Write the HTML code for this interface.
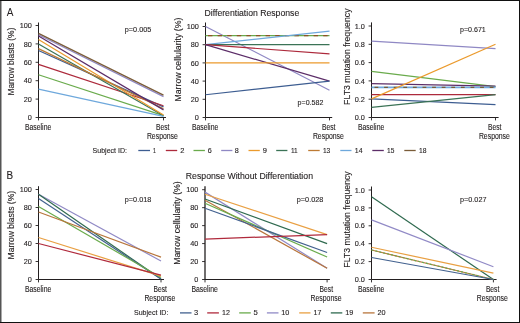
<!DOCTYPE html>
<html><head><meta charset="utf-8"><style>
html,body{margin:0;padding:0;background:#fff;width:520px;height:323px;overflow:hidden;position:relative}
</style></head><body>
<svg xmlns="http://www.w3.org/2000/svg" width="520" height="323" viewBox="0 0 520 323" style="position:absolute;left:0;top:0;will-change:transform">
<rect x="0" y="0" width="520" height="323" fill="#fff"/>
<g font-family='"Liberation Sans", sans-serif' fill="#231f20" stroke="#231f20" stroke-width="0.12">
<text x="6.8" y="15.9" font-size="11" text-anchor="start" textLength="6.7" lengthAdjust="spacingAndGlyphs" stroke-width="0">A</text>
<text x="6.4" y="179.4" font-size="11" text-anchor="start" textLength="6.6" lengthAdjust="spacingAndGlyphs" stroke-width="0.15">B</text>
<text x="204.6" y="15.9" font-size="9.4" text-anchor="start" textLength="94.6" lengthAdjust="spacingAndGlyphs">Differentiation Response</text>
<text x="185.8" y="178.8" font-size="9.4" text-anchor="start" textLength="127.2" lengthAdjust="spacingAndGlyphs">Response Without Differentiation</text>
<path d="M38.5 22.5 V117.5 H166.0" fill="none" stroke="#231f20" stroke-width="1"/>
<path d="M35.6 117.50H38.5M35.6 99.10H38.5M35.6 80.70H38.5M35.6 62.30H38.5M35.6 43.90H38.5M35.6 25.50H38.5M38.5 117.5V120.4M163.5 117.5V120.4" fill="none" stroke="#231f20" stroke-width="0.9"/>
<text x="31.9" y="120.10" font-size="7.3" text-anchor="end">0</text>
<text x="31.9" y="101.70" font-size="7.3" text-anchor="end">20</text>
<text x="31.9" y="83.30" font-size="7.3" text-anchor="end">40</text>
<text x="31.9" y="64.90" font-size="7.3" text-anchor="end">60</text>
<text x="31.9" y="46.50" font-size="7.3" text-anchor="end">80</text>
<text x="31.9" y="28.10" font-size="7.3" text-anchor="end">100</text>
<line x1="38.5" y1="50.52" x2="163.5" y2="106.92" stroke="#3d5d91" stroke-width="1.2" />
<line x1="38.5" y1="64.32" x2="163.5" y2="105.72" stroke="#ad2a3c" stroke-width="1.2" />
<line x1="38.5" y1="74.72" x2="163.5" y2="115.66" stroke="#6aab4c" stroke-width="1.2" />
<line x1="38.5" y1="34.70" x2="163.5" y2="96.62" stroke="#8f88c4" stroke-width="1.2" />
<line x1="38.5" y1="44.08" x2="163.5" y2="115.84" stroke="#3b7356" stroke-width="1.2" />
<line x1="38.5" y1="39.58" x2="163.5" y2="114.92" stroke="#eb9a2c" stroke-width="1.2" />
<line x1="38.5" y1="48.59" x2="163.5" y2="108.76" stroke="#bd7a33" stroke-width="1.2" />
<line x1="38.5" y1="89.07" x2="163.5" y2="116.40" stroke="#6ea8dc" stroke-width="1.2" />
<line x1="38.5" y1="36.08" x2="163.5" y2="109.86" stroke="#5c2d68" stroke-width="1.2" />
<line x1="38.5" y1="33.41" x2="163.5" y2="95.14" stroke="#7a5c38" stroke-width="1.2" />
<text x="38.1" y="129.7" font-size="8.2" text-anchor="middle" textLength="26.4" lengthAdjust="spacingAndGlyphs">Baseline</text>
<text x="162.7" y="129.7" font-size="8.2" text-anchor="middle" textLength="13.4" lengthAdjust="spacingAndGlyphs">Best</text>
<text x="162.4" y="138.6" font-size="8.2" text-anchor="middle" textLength="31.0" lengthAdjust="spacingAndGlyphs">Response</text>
<text transform="translate(14.0 61.6) rotate(-90)" x="0" y="0" font-size="9.2" text-anchor="middle" textLength="68" lengthAdjust="spacingAndGlyphs">Marrow blasts (%)</text>
<path d="M205.5 22.5 V117.5 H332.2" fill="none" stroke="#231f20" stroke-width="1"/>
<path d="M202.6 117.50H205.5M202.6 99.30H205.5M202.6 81.10H205.5M202.6 62.90H205.5M202.6 44.70H205.5M202.6 26.50H205.5M205.5 117.5V120.4M329.5 117.5V120.4" fill="none" stroke="#231f20" stroke-width="0.9"/>
<text x="198.9" y="120.10" font-size="7.3" text-anchor="end">0</text>
<text x="198.9" y="101.90" font-size="7.3" text-anchor="end">20</text>
<text x="198.9" y="83.70" font-size="7.3" text-anchor="end">40</text>
<text x="198.9" y="65.50" font-size="7.3" text-anchor="end">60</text>
<text x="198.9" y="47.30" font-size="7.3" text-anchor="end">80</text>
<text x="198.9" y="29.10" font-size="7.3" text-anchor="end">100</text>
<line x1="205.5" y1="26.50" x2="329.5" y2="90.20" stroke="#8f88c4" stroke-width="1.2" />
<line x1="205.5" y1="35.60" x2="329.5" y2="35.60" stroke="#6aab4c" stroke-width="1.2" />
<line x1="205.5" y1="35.60" x2="329.5" y2="35.60" stroke="#8f4f27" stroke-width="1.2" stroke-dasharray="4.4 5.2" stroke-dashoffset="-2.5"/>
<line x1="205.5" y1="44.70" x2="329.5" y2="31.05" stroke="#6ea8dc" stroke-width="1.2" />
<line x1="205.5" y1="44.70" x2="329.5" y2="44.70" stroke="#3b7356" stroke-width="1.2" />
<line x1="205.5" y1="44.70" x2="329.5" y2="53.80" stroke="#ad2a3c" stroke-width="1.2" />
<line x1="205.5" y1="44.70" x2="329.5" y2="81.10" stroke="#5c2d68" stroke-width="1.2" />
<line x1="205.5" y1="62.90" x2="329.5" y2="62.90" stroke="#eb9a2c" stroke-width="1.2" />
<line x1="205.5" y1="94.75" x2="329.5" y2="81.10" stroke="#3d5d91" stroke-width="1.2" />
<text x="205.1" y="129.7" font-size="8.2" text-anchor="middle" textLength="26.4" lengthAdjust="spacingAndGlyphs">Baseline</text>
<text x="328.7" y="129.7" font-size="8.2" text-anchor="middle" textLength="13.4" lengthAdjust="spacingAndGlyphs">Best</text>
<text x="328.4" y="138.6" font-size="8.2" text-anchor="middle" textLength="31.0" lengthAdjust="spacingAndGlyphs">Response</text>
<text transform="translate(180.8 59.6) rotate(-90)" x="0" y="0" font-size="9.2" text-anchor="middle" textLength="83.8" lengthAdjust="spacingAndGlyphs">Marrow cellularity (%)</text>
<path d="M371.5 22.4 V117.5 H498.6" fill="none" stroke="#231f20" stroke-width="1"/>
<path d="M368.6 117.50H371.5M368.6 99.20H371.5M368.6 80.90H371.5M368.6 62.60H371.5M368.6 44.30H371.5M368.6 26.00H371.5M371.5 117.5V120.4M495.5 117.5V120.4" fill="none" stroke="#231f20" stroke-width="0.9"/>
<text x="364.9" y="120.10" font-size="7.3" text-anchor="end">0.0</text>
<text x="364.9" y="101.80" font-size="7.3" text-anchor="end">0.2</text>
<text x="364.9" y="83.50" font-size="7.3" text-anchor="end">0.4</text>
<text x="364.9" y="65.20" font-size="7.3" text-anchor="end">0.6</text>
<text x="364.9" y="46.90" font-size="7.3" text-anchor="end">0.8</text>
<text x="364.9" y="28.60" font-size="7.3" text-anchor="end">1.0</text>
<line x1="371.5" y1="41.10" x2="495.5" y2="48.60" stroke="#8f88c4" stroke-width="1.2" />
<line x1="371.5" y1="71.29" x2="495.5" y2="86.66" stroke="#6aab4c" stroke-width="1.2" />
<line x1="371.5" y1="83.55" x2="495.5" y2="86.12" stroke="#5c2d68" stroke-width="1.2" />
<line x1="371.5" y1="87.31" x2="495.5" y2="87.31" stroke="#6ea8dc" stroke-width="1.8"/>
<line x1="371.5" y1="87.31" x2="495.5" y2="87.31" stroke="#7a5c38" stroke-width="1.2" stroke-dasharray="3.8 5.8" stroke-dashoffset="-3"/>
<line x1="371.5" y1="94.62" x2="495.5" y2="94.62" stroke="#ad2a3c" stroke-width="1.2" />
<line x1="371.5" y1="98.83" x2="495.5" y2="104.60" stroke="#3d5d91" stroke-width="1.2" />
<line x1="371.5" y1="107.44" x2="495.5" y2="94.62" stroke="#3b7356" stroke-width="1.2" />
<line x1="371.5" y1="98.83" x2="495.5" y2="44.30" stroke="#eb9a2c" stroke-width="1.2" />
<text x="371.1" y="129.7" font-size="8.2" text-anchor="middle" textLength="26.4" lengthAdjust="spacingAndGlyphs">Baseline</text>
<text x="494.7" y="129.7" font-size="8.2" text-anchor="middle" textLength="13.4" lengthAdjust="spacingAndGlyphs">Best</text>
<text x="494.4" y="138.6" font-size="8.2" text-anchor="middle" textLength="31.0" lengthAdjust="spacingAndGlyphs">Response</text>
<text transform="translate(349.5 56.7) rotate(-90)" x="0" y="0" font-size="9.2" text-anchor="middle" textLength="96.4" lengthAdjust="spacingAndGlyphs">FLT3 mutation frequency</text>
<path d="M38.5 186.2 V279.5 H164.0" fill="none" stroke="#231f20" stroke-width="1"/>
<path d="M35.6 279.50H38.5M35.6 261.50H38.5M35.6 243.50H38.5M35.6 225.50H38.5M35.6 207.50H38.5M35.6 189.50H38.5M38.5 279.5V282.4M161.0 279.5V282.4" fill="none" stroke="#231f20" stroke-width="0.9"/>
<text x="31.9" y="282.10" font-size="7.3" text-anchor="end">0</text>
<text x="31.9" y="264.10" font-size="7.3" text-anchor="end">20</text>
<text x="31.9" y="246.10" font-size="7.3" text-anchor="end">40</text>
<text x="31.9" y="228.10" font-size="7.3" text-anchor="end">60</text>
<text x="31.9" y="210.10" font-size="7.3" text-anchor="end">80</text>
<text x="31.9" y="192.10" font-size="7.3" text-anchor="end">100</text>
<line x1="38.5" y1="194.27" x2="161.0" y2="261.05" stroke="#918ac6" stroke-width="1.2" />
<line x1="38.5" y1="194.27" x2="161.0" y2="279.05" stroke="#2f6a4f" stroke-width="1.2" />
<line x1="38.5" y1="198.59" x2="161.0" y2="279.05" stroke="#42618f" stroke-width="1.2" />
<line x1="38.5" y1="206.42" x2="161.0" y2="277.52" stroke="#6aab4c" stroke-width="1.2" />
<line x1="38.5" y1="212.00" x2="161.0" y2="257.18" stroke="#b8763c" stroke-width="1.2" />
<line x1="38.5" y1="237.47" x2="161.0" y2="276.17" stroke="#e9a043" stroke-width="1.2" />
<line x1="38.5" y1="243.50" x2="161.0" y2="275.18" stroke="#b02a3c" stroke-width="1.2" />
<text x="38.1" y="291.9" font-size="8.2" text-anchor="middle" textLength="26.4" lengthAdjust="spacingAndGlyphs">Baseline</text>
<text x="160.2" y="291.9" font-size="8.2" text-anchor="middle" textLength="13.4" lengthAdjust="spacingAndGlyphs">Best</text>
<text x="159.9" y="300.79999999999995" font-size="8.2" text-anchor="middle" textLength="31.0" lengthAdjust="spacingAndGlyphs">Response</text>
<text transform="translate(14.0 225.2) rotate(-90)" x="0" y="0" font-size="9.2" text-anchor="middle" textLength="68.4" lengthAdjust="spacingAndGlyphs">Marrow blasts (%)</text>
<path d="M205.0 186.2 V279.5" fill="none" stroke="#231f20" stroke-width="1.3"/>
<path d="M205.0 279.5 H329.9" fill="none" stroke="#231f20" stroke-width="1"/>
<path d="M202.1 279.50H205.0M202.1 261.54H205.0M202.1 243.58H205.0M202.1 225.62H205.0M202.1 207.66H205.0M202.1 189.70H205.0M205.0 279.5V282.4M327.1 279.5V282.4" fill="none" stroke="#231f20" stroke-width="0.9"/>
<text x="198.4" y="282.10" font-size="7.3" text-anchor="end">0</text>
<text x="198.4" y="264.14" font-size="7.3" text-anchor="end">20</text>
<text x="198.4" y="246.18" font-size="7.3" text-anchor="end">40</text>
<text x="198.4" y="228.22" font-size="7.3" text-anchor="end">60</text>
<text x="198.4" y="210.26" font-size="7.3" text-anchor="end">80</text>
<text x="198.4" y="192.30" font-size="7.3" text-anchor="end">100</text>
<line x1="205.0" y1="192.12" x2="327.1" y2="268.27" stroke="#918ac6" stroke-width="1.2" />
<line x1="205.0" y1="194.28" x2="327.1" y2="234.60" stroke="#e9a043" stroke-width="1.2" />
<line x1="205.0" y1="199.04" x2="327.1" y2="243.58" stroke="#2f6a4f" stroke-width="1.2" />
<line x1="205.0" y1="200.21" x2="327.1" y2="268.27" stroke="#b8763c" stroke-width="1.2" />
<line x1="205.0" y1="203.26" x2="327.1" y2="257.05" stroke="#6aab4c" stroke-width="1.2" />
<line x1="205.0" y1="208.20" x2="327.1" y2="252.56" stroke="#42618f" stroke-width="1.2" />
<line x1="205.0" y1="239.09" x2="327.1" y2="234.60" stroke="#b02a3c" stroke-width="1.2" />
<text x="204.6" y="291.9" font-size="8.2" text-anchor="middle" textLength="26.4" lengthAdjust="spacingAndGlyphs">Baseline</text>
<text x="326.3" y="291.9" font-size="8.2" text-anchor="middle" textLength="13.4" lengthAdjust="spacingAndGlyphs">Best</text>
<text x="326.0" y="300.79999999999995" font-size="8.2" text-anchor="middle" textLength="31.0" lengthAdjust="spacingAndGlyphs">Response</text>
<text transform="translate(180.3 223.0) rotate(-90)" x="0" y="0" font-size="9.2" text-anchor="middle" textLength="83.4" lengthAdjust="spacingAndGlyphs">Marrow cellularity (%)</text>
<path d="M371.5 186.5 V279.5 H496.6" fill="none" stroke="#231f20" stroke-width="1"/>
<path d="M368.6 279.50H371.5M368.6 261.60H371.5M368.6 243.70H371.5M368.6 225.80H371.5M368.6 207.90H371.5M368.6 190.00H371.5M371.5 279.5V282.4M493.4 279.5V282.4" fill="none" stroke="#231f20" stroke-width="0.9"/>
<text x="364.9" y="282.10" font-size="7.3" text-anchor="end">0.0</text>
<text x="364.9" y="264.20" font-size="7.3" text-anchor="end">0.2</text>
<text x="364.9" y="246.30" font-size="7.3" text-anchor="end">0.4</text>
<text x="364.9" y="228.40" font-size="7.3" text-anchor="end">0.6</text>
<text x="364.9" y="210.50" font-size="7.3" text-anchor="end">0.8</text>
<text x="364.9" y="192.60" font-size="7.3" text-anchor="end">1.0</text>
<line x1="371.5" y1="196.80" x2="493.4" y2="279.50" stroke="#2f6a4f" stroke-width="1.2" />
<line x1="371.5" y1="219.89" x2="493.4" y2="266.70" stroke="#918ac6" stroke-width="1.2" />
<line x1="371.5" y1="247.28" x2="493.4" y2="273.06" stroke="#e9a043" stroke-width="1.2" />
<line x1="371.5" y1="249.97" x2="493.4" y2="279.50" stroke="#b8763c" stroke-width="1.2" />
<line x1="371.5" y1="249.97" x2="493.4" y2="279.50" stroke="#6aab4c" stroke-width="1.2" stroke-dasharray="2 2"/>
<line x1="371.5" y1="257.48" x2="493.4" y2="279.50" stroke="#42618f" stroke-width="1.2" />
<text x="371.1" y="291.9" font-size="8.2" text-anchor="middle" textLength="26.4" lengthAdjust="spacingAndGlyphs">Baseline</text>
<text x="492.59999999999997" y="291.9" font-size="8.2" text-anchor="middle" textLength="13.4" lengthAdjust="spacingAndGlyphs">Best</text>
<text x="492.29999999999995" y="300.79999999999995" font-size="8.2" text-anchor="middle" textLength="31.0" lengthAdjust="spacingAndGlyphs">Response</text>
<text transform="translate(349.8 219.5) rotate(-90)" x="0" y="0" font-size="9.2" text-anchor="middle" textLength="96.4" lengthAdjust="spacingAndGlyphs">FLT3 mutation frequency</text>
<text x="124.8" y="32.0" font-size="7.9" text-anchor="start" textLength="26.5" lengthAdjust="spacingAndGlyphs">p=0.005</text>
<text x="297.6" y="105.1" font-size="7.9" text-anchor="start" textLength="25.8" lengthAdjust="spacingAndGlyphs">p=0.582</text>
<text x="460.0" y="32.3" font-size="7.9" text-anchor="start" textLength="25.8" lengthAdjust="spacingAndGlyphs">p=0.671</text>
<text x="124.8" y="202.0" font-size="7.9" text-anchor="start" textLength="26.5" lengthAdjust="spacingAndGlyphs">p=0.018</text>
<text x="296.8" y="202.0" font-size="7.9" text-anchor="start" textLength="26.5" lengthAdjust="spacingAndGlyphs">p=0.028</text>
<text x="460.0" y="202.3" font-size="7.9" text-anchor="start" textLength="26.5" lengthAdjust="spacingAndGlyphs">p=0.027</text>
<text x="92.6" y="153.4" font-size="7.7" text-anchor="start" textLength="34.4" lengthAdjust="spacingAndGlyphs">Subject ID:</text>
<line x1="138.3" y1="150.5" x2="150.0" y2="150.5" stroke="#3d5d91" stroke-width="1.3"/>
<text x="153.0" y="153.4" font-size="7.4" text-anchor="start" textLength="2.9" lengthAdjust="spacingAndGlyphs">1</text>
<line x1="165.8" y1="150.5" x2="177.2" y2="150.5" stroke="#ad2a3c" stroke-width="1.3"/>
<text x="180.3" y="153.4" font-size="7.4" text-anchor="start" textLength="4.2" lengthAdjust="spacingAndGlyphs">2</text>
<line x1="193.5" y1="150.5" x2="204.9" y2="150.5" stroke="#6aab4c" stroke-width="1.3"/>
<text x="207.8" y="153.4" font-size="7.4" text-anchor="start" textLength="4.0" lengthAdjust="spacingAndGlyphs">6</text>
<line x1="221.2" y1="150.5" x2="232.4" y2="150.5" stroke="#8f88c4" stroke-width="1.3"/>
<text x="234.8" y="153.4" font-size="7.4" text-anchor="start" textLength="4.0" lengthAdjust="spacingAndGlyphs">8</text>
<line x1="248.5" y1="150.5" x2="259.8" y2="150.5" stroke="#eb9a2c" stroke-width="1.3"/>
<text x="262.8" y="153.4" font-size="7.4" text-anchor="start" textLength="4.2" lengthAdjust="spacingAndGlyphs">9</text>
<line x1="276.2" y1="150.5" x2="287.4" y2="150.5" stroke="#3b7356" stroke-width="1.3"/>
<text x="290.9" y="153.4" font-size="7.4" text-anchor="start" textLength="6.8" lengthAdjust="spacingAndGlyphs">11</text>
<line x1="308.2" y1="150.5" x2="319.7" y2="150.5" stroke="#bd7a33" stroke-width="1.3"/>
<text x="322.9" y="153.4" font-size="7.4" text-anchor="start" textLength="7.4" lengthAdjust="spacingAndGlyphs">13</text>
<line x1="340.3" y1="150.5" x2="351.5" y2="150.5" stroke="#6ea8dc" stroke-width="1.3"/>
<text x="354.8" y="153.4" font-size="7.4" text-anchor="start" textLength="7.7" lengthAdjust="spacingAndGlyphs">14</text>
<line x1="372.3" y1="150.5" x2="383.8" y2="150.5" stroke="#5c2d68" stroke-width="1.3"/>
<text x="387.1" y="153.4" font-size="7.4" text-anchor="start" textLength="7.3" lengthAdjust="spacingAndGlyphs">15</text>
<line x1="404.3" y1="150.5" x2="415.7" y2="150.5" stroke="#7a5c38" stroke-width="1.3"/>
<text x="418.9" y="153.4" font-size="7.4" text-anchor="start" textLength="7.5" lengthAdjust="spacingAndGlyphs">18</text>
<text x="134.0" y="315.4" font-size="7.7" text-anchor="start" textLength="34.4" lengthAdjust="spacingAndGlyphs">Subject ID:</text>
<line x1="180.0" y1="312.9" x2="191.5" y2="312.9" stroke="#42618f" stroke-width="1.3"/>
<text x="194.0" y="315.4" font-size="7.4" text-anchor="start" textLength="4.2" lengthAdjust="spacingAndGlyphs">3</text>
<line x1="207.2" y1="312.9" x2="218.9" y2="312.9" stroke="#b02a3c" stroke-width="1.3"/>
<text x="222.0" y="315.4" font-size="7.4" text-anchor="start" textLength="7.9" lengthAdjust="spacingAndGlyphs">12</text>
<line x1="239.2" y1="312.9" x2="250.8" y2="312.9" stroke="#6aab4c" stroke-width="1.3"/>
<text x="253.6" y="315.4" font-size="7.4" text-anchor="start" textLength="4.3" lengthAdjust="spacingAndGlyphs">5</text>
<line x1="266.9" y1="312.9" x2="278.5" y2="312.9" stroke="#918ac6" stroke-width="1.3"/>
<text x="281.3" y="315.4" font-size="7.4" text-anchor="start" textLength="8.1" lengthAdjust="spacingAndGlyphs">10</text>
<line x1="299.2" y1="312.9" x2="310.5" y2="312.9" stroke="#e9a043" stroke-width="1.3"/>
<text x="313.6" y="315.4" font-size="7.4" text-anchor="start" textLength="7.8" lengthAdjust="spacingAndGlyphs">17</text>
<line x1="330.8" y1="312.9" x2="342.3" y2="312.9" stroke="#2f6a4f" stroke-width="1.3"/>
<text x="345.2" y="315.4" font-size="7.4" text-anchor="start" textLength="8.1" lengthAdjust="spacingAndGlyphs">19</text>
<line x1="362.8" y1="312.9" x2="374.6" y2="312.9" stroke="#b8763c" stroke-width="1.3"/>
<text x="377.5" y="315.4" font-size="7.4" text-anchor="start" textLength="8.1" lengthAdjust="spacingAndGlyphs">20</text>
</g>
<path d="M0.75 0V323" stroke="#555" stroke-width="1.5"/>
<path d="M0 0.5H520M0 322.5H520M519.5 0V323" stroke="#111" stroke-width="1"/>
</svg>
</body></html>
